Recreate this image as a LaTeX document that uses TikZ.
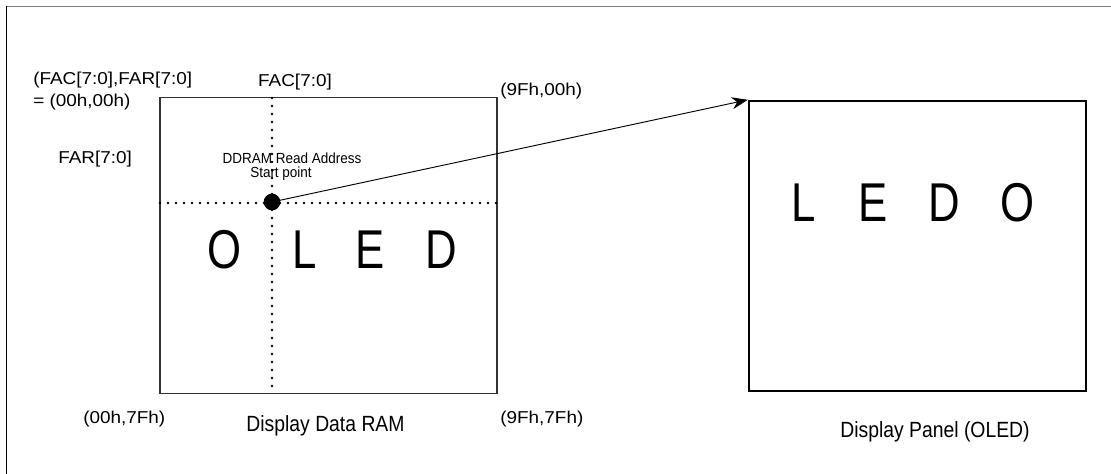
\documentclass[tikz,border=0pt]{standalone}
\usepackage{fontspec}
\setmainfont{Liberation Sans}
\newfontfamily\bigfont[FakeStretch=0.8]{Liberation Sans}
\newfontfamily\midfont[FakeStretch=0.92]{Liberation Sans}
\newfontfamily\capfont[FakeStretch=0.88]{Liberation Sans}
\newfontfamily\lblfont[FakeStretch=1.1]{Liberation Sans}
\usetikzlibrary{arrows.meta}
\begin{document}
\begin{tikzpicture}[x=0.75pt,y=-0.75pt,
  lbl/.style={inner sep=0pt,font=\lblfont\fontsize{12.9}{16}\selectfont},
  captext/.style={inner sep=0pt,font=\capfont\fontsize{16.5}{19}\selectfont},
  note/.style={inner sep=0pt,font=\midfont\fontsize{11}{13}\selectfont},
  bigl/.style={inner sep=0pt,anchor=base,font=\bigfont\fontsize{41}{44}\selectfont},
  rambox/.style={draw=black!80,line width=0.8pt,minimum width=252.75pt,minimum height=222pt,inner sep=0pt},
  panelbox/.style={draw=black,line width=1.8pt,minimum width=252.75pt,minimum height=217.5pt,inner sep=0pt},
  dotline/.style={line width=2pt,line cap=round,dash pattern=on 0pt off 6pt},
  frameline/.style={line width=1.2pt},
]
\useasboundingbox (0,0) rectangle (1111,474);
% frame
\coordinate (ftl) at (6.5,6.5);
\coordinate (ftr) at (1111,6.5);
\coordinate (fbl) at (6.5,474);
\draw[frameline,draw=black!50] (ftl) -- (ftr);
\draw[frameline] (ftl) -- (fbl);
% boxes
\node[rambox] (ram) at (328.5,245.5) {};
\node[panelbox] (panel) at (917.5,246) {};
% dotted axes
\coordinate (vtop) at (272,98);
\coordinate (vbot) at (272,393);
\coordinate (hl) at (160,203);
\coordinate (hr) at (497,203);
\draw[dotline] (vtop) -- (vbot);
\draw[dotline] (hl) -- (hr);
% start point dot
\node[circle,fill=black,minimum size=12.5pt,inner sep=0pt] (dot) at (272,202) {};
\draw[line width=0.7pt,-{Stealth[length=12pt,width=9pt]}] (dot.center) -- (panel.north west);
% labels
\node[lbl,anchor=base west] (t1) at (33,85) {(FAC[7:0],FAR[7:0]};
\node[lbl,anchor=base west] (t2) at (33,107) {= (00h,00h)};
\node[lbl,anchor=base] (t3) at (295,87) {FAC[7:0]};
\node[lbl,anchor=base west] (t4) at (500,96) {(9Fh,00h)};
\node[lbl,anchor=base west] (t5) at (58,164) {FAR[7:0]};
\node[note,anchor=base] (t6) at (292,164) {DDRAM Read Address};
\node[note,anchor=base] (t7) at (281,178) {Start point};
\node[lbl,anchor=base west] (t8) at (83,423) {(00h,7Fh)};
\node[captext,anchor=base] (t9) at (325.5,431) {Display Data RAM};
\node[lbl,anchor=base west] (t10) at (500,423) {(9Fh,7Fh)};
\node[captext,anchor=base] (t11) at (935,437) {Display Panel (OLED)};
% big letters
\node[bigl] (r1) at (225,268) {O};
\node[bigl] (r2) at (305,268) {L};
\node[bigl] (r3) at (370,268) {E};
\node[bigl] (r4) at (441,268) {D};
\node[bigl] (p1) at (804,222) {L};
\node[bigl] (p2) at (873,222) {E};
\node[bigl] (p3) at (944,222) {D};
\node[bigl] (p4) at (1017,222) {O};
\end{tikzpicture}
\end{document}
